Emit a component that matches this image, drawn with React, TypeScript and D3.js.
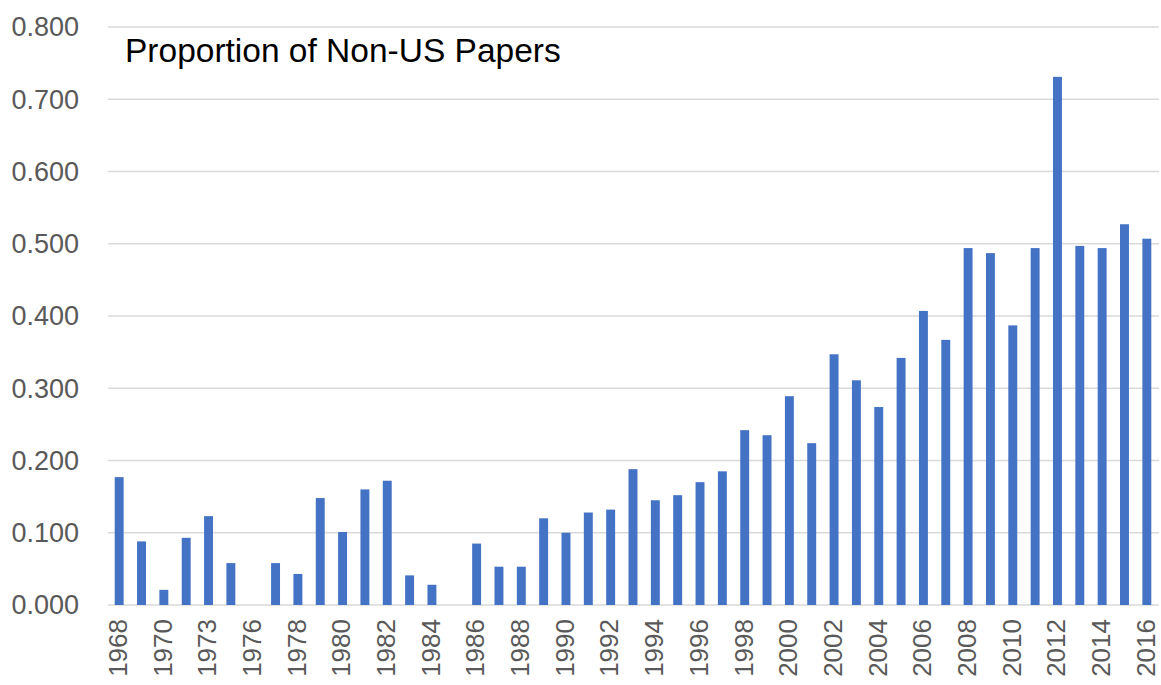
import React from "react";
import * as d3 from "d3";

const years: string[] = [
  "1968", "1969", "1970", "1971", "1973", "1974", "1976", "1977", "1978", "1979",
  "1980", "1981", "1982", "1983", "1984", "1985", "1986", "1987", "1988", "1989",
  "1990", "1991", "1992", "1993", "1994", "1995", "1996", "1997", "1998", "1999",
  "2000", "2001", "2002", "2003", "2004", "2005", "2006", "2007", "2008", "2009",
  "2010", "2011", "2012", "2013", "2014", "2015", "2016",
];

const proportions: number[] = [
  0.177, 0.088, 0.021, 0.093, 0.123, 0.058, 0.0, 0.058, 0.043, 0.148,
  0.101, 0.160, 0.172, 0.041, 0.028, 0.0, 0.085, 0.053, 0.053, 0.120,
  0.100, 0.128, 0.132, 0.188, 0.145, 0.152, 0.170, 0.185, 0.242, 0.235,
  0.289, 0.224, 0.347, 0.311, 0.274, 0.342, 0.407, 0.367, 0.494, 0.487,
  0.387, 0.494, 0.731, 0.497, 0.494, 0.527, 0.507,
];

const yTicks: number[] = [0, 0.1, 0.2, 0.3, 0.4, 0.5, 0.6, 0.7, 0.8];

const titleText = "Proportion of Non-US Papers";

const W = 1161;
const H = 685;
const M = { left: 108, right: 3, top: 27, bottom: 80 };

export default function App() {
  const x = d3
    .scaleBand<string>()
    .domain(years)
    .range([M.left, W - M.right])
    .paddingInner(0.6)
    .paddingOuter(0.3);
  const y = d3.scaleLinear().domain([0, 0.8]).range([H - M.bottom, M.top]);
  const font = "'Liberation Sans', Arial, sans-serif";

  return (
    <svg
      width={W}
      height={H}
      style={{ position: "absolute", left: 0, top: 0, background: "#fff" }}
      fontFamily={font}
    >
      {yTicks.map((t) => (
        <g key={t}>
          <line
            x1={M.left}
            x2={W - 2}
            y1={y(t)}
            y2={y(t)}
            stroke="#d9d9d9"
            strokeWidth={1.5}
          />
          <text
            x={79}
            y={y(t)}
            dy="0.35em"
            textAnchor="end"
            fontSize={27}
            fill="#595959"
          >
            {d3.format(".3f")(t)}
          </text>
        </g>
      ))}
      {years.map((yr, i) => (
        <rect
          key={yr}
          x={x(yr)}
          width={x.bandwidth()}
          y={y(proportions[i])}
          height={y(0) - y(proportions[i])}
          fill="#4472C4"
        />
      ))}
      {years.map((yr, i) =>
        i % 2 === 0 ? (
          <text
            key={"l" + yr}
            transform={`translate(${(x(yr) as number) + x.bandwidth() / 2},${y(0) + 14}) rotate(-90)`}
            textAnchor="end"
            dy="0.3em"
            fontSize={26}
            fill="#595959"
          >
            {yr}
          </text>
        ) : null
      )}
      <text x={125} y={62} fontSize={33.5} fill="#000">
        {titleText}
      </text>
    </svg>
  );
}
